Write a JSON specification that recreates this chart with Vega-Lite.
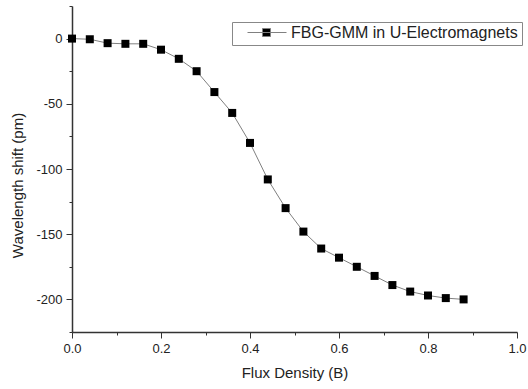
{
  "$schema": "https://vega.github.io/schema/vega-lite/v6.json",
  "width": 445,
  "height": 326,
  "autosize": {"type": "none"},
  "padding": {"left": 72, "top": 6, "right": 11, "bottom": 57},
  "background": "white",
  "config": {
    "view": {"stroke": null},
    "font": "Liberation Sans",
    "axis": {"labelFont": "Liberation Sans", "titleFont": "Liberation Sans", "labelColor": "#222", "titleColor": "#222", "domainColor": "#333", "tickColor": "#333", "grid": false, "titleFontWeight": "normal", "labelFlush": false}
  },
  "data": {"values": [
    {"B": 0.00, "shift": 0, "series": "FBG-GMM in U-Electromagnets"},
    {"B": 0.04, "shift": -0.5, "series": "FBG-GMM in U-Electromagnets"},
    {"B": 0.08, "shift": -3.5, "series": "FBG-GMM in U-Electromagnets"},
    {"B": 0.12, "shift": -4, "series": "FBG-GMM in U-Electromagnets"},
    {"B": 0.16, "shift": -4, "series": "FBG-GMM in U-Electromagnets"},
    {"B": 0.20, "shift": -8.5, "series": "FBG-GMM in U-Electromagnets"},
    {"B": 0.24, "shift": -15.5, "series": "FBG-GMM in U-Electromagnets"},
    {"B": 0.28, "shift": -25, "series": "FBG-GMM in U-Electromagnets"},
    {"B": 0.32, "shift": -41, "series": "FBG-GMM in U-Electromagnets"},
    {"B": 0.36, "shift": -57, "series": "FBG-GMM in U-Electromagnets"},
    {"B": 0.40, "shift": -80, "series": "FBG-GMM in U-Electromagnets"},
    {"B": 0.44, "shift": -108, "series": "FBG-GMM in U-Electromagnets"},
    {"B": 0.48, "shift": -130, "series": "FBG-GMM in U-Electromagnets"},
    {"B": 0.52, "shift": -148, "series": "FBG-GMM in U-Electromagnets"},
    {"B": 0.56, "shift": -161, "series": "FBG-GMM in U-Electromagnets"},
    {"B": 0.60, "shift": -168, "series": "FBG-GMM in U-Electromagnets"},
    {"B": 0.64, "shift": -175, "series": "FBG-GMM in U-Electromagnets"},
    {"B": 0.68, "shift": -182, "series": "FBG-GMM in U-Electromagnets"},
    {"B": 0.72, "shift": -189, "series": "FBG-GMM in U-Electromagnets"},
    {"B": 0.76, "shift": -194, "series": "FBG-GMM in U-Electromagnets"},
    {"B": 0.80, "shift": -197, "series": "FBG-GMM in U-Electromagnets"},
    {"B": 0.84, "shift": -199, "series": "FBG-GMM in U-Electromagnets"},
    {"B": 0.88, "shift": -200, "series": "FBG-GMM in U-Electromagnets"}
  ]},
  "resolve": {"axis": {"x": "independent", "y": "independent"}},
  "layer": [
    {
      "mark": {"type": "line", "color": "#808080", "strokeWidth": 1},
      "encoding": {
        "x": {"field": "B", "type": "quantitative", "scale": {"domain": [0, 1], "nice": false, "zero": false},
          "axis": {"orient": "bottom", "values": [0.1, 0.3, 0.5, 0.7, 0.9], "labels": false, "title": null, "domain": false, "tickSize": 3}},
        "y": {"field": "shift", "type": "quantitative", "scale": {"domain": [-225, 25], "nice": false, "zero": false},
          "axis": {"orient": "left", "values": [25, -25, -75, -125, -175, -225], "labels": false, "title": null, "domain": false, "tickSize": 3}}
      }
    },
    {
      "mark": {"type": "point", "shape": "square", "filled": true, "size": 64, "opacity": 1},
      "encoding": {
        "x": {"field": "B", "type": "quantitative",
          "axis": {"orient": "bottom", "values": [0, 0.2, 0.4, 0.6, 0.8, 1.0], "format": ".1f", "title": "Flux Density (B)", "labelFontSize": 13, "titleFontSize": 15, "tickSize": 6, "labelPadding": 4, "titlePadding": 10, "domainWidth": 1.5}},
        "y": {"field": "shift", "type": "quantitative",
          "axis": {"orient": "left", "values": [0, -50, -100, -150, -200], "labelExpr": "replace(datum.label, '\u2212', '-')", "title": "Wavelength shift (pm)", "labelFontSize": 13, "titleFontSize": 15, "tickSize": 6, "labelPadding": 4, "titlePadding": 10, "titleY": 179, "domainWidth": 1.5}},
        "color": {"field": "series", "type": "nominal", "scale": {"range": ["#000"]},
          "legend": {"title": null, "orient": "none", "legendX": 160, "legendY": 16, "labelFontSize": 16, "labelColor": "#222", "labelFont": "Liberation Sans", "labelLimit": 0,
            "symbolType": "M-0.56,0H1M0.04,-0.16H0.36V0.16H0.04Z", "symbolSize": 2500, "symbolStrokeColor": "#808080", "symbolFillColor": "#000", "symbolStrokeWidth": 1,
            "clipHeight": 13, "strokeColor": "#888", "padding": 4, "labelOffset": 4}}
      }
    }
  ]
}
